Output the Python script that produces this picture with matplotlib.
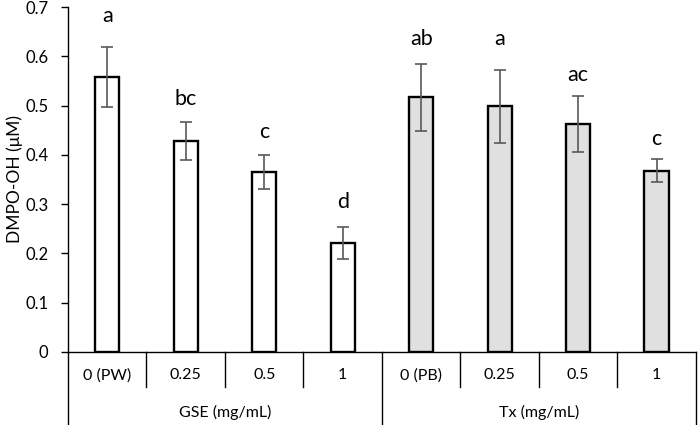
import numpy as np
import matplotlib
matplotlib.use("Agg")
from matplotlib import pyplot as plt
from matplotlib import transforms

plt.rcParams["font.family"] = ["Lato", "DejaVu Sans"]

# data
doses = ["0 (PW)", "0.25", "0.5", "1", "0 (PB)", "0.25", "0.5", "1"]
groups = ["GSE (mg/mL)", "Tx (mg/mL)"]
means = [0.558, 0.428, 0.365, 0.221, 0.517, 0.499, 0.463, 0.368]
errors = [0.061, 0.038, 0.035, 0.032, 0.068, 0.074, 0.057, 0.023]
letters = ["a", "bc", "c", "d", "ab", "a", "ac", "c"]
letter_gap = [0.042, 0.028, 0.027, 0.032, 0.029, 0.041, 0.021, 0.021]

fig = plt.figure(figsize=(6.98, 4.25), dpi=100)
ax = fig.add_axes([0.0974, 0.1718, 0.8996, 0.8117])

x = np.arange(len(means))
colors = ["white"] * 4 + ["#e0e0e0"] * 4
ax.bar(x, means, width=0.31, color=colors, edgecolor="black", linewidth=1.7, zorder=2)
ax.errorbar(x, means, yerr=errors, fmt="none", ecolor="#595959",
            elinewidth=1.2, capsize=4, capthick=1.2, zorder=3)

for xi, m, e, lab, g in zip(x, means, errors, letters, letter_gap):
    ax.text(xi, m + e + g, lab, ha="center", va="bottom", fontsize=15.5)

ax.set_xlim(-0.5, len(means) - 0.5)
ax.set_ylim(0, 0.7)
ax.set_yticks(np.arange(0, 0.71, 0.1))
ax.set_yticklabels(["0"] + [f"{v:.1f}" for v in np.arange(0.1, 0.71, 0.1)])
ax.tick_params(axis="y", direction="out", length=5, width=1, labelsize=12, pad=9)
ax.set_xticks([])
ax.spines["top"].set_visible(False)
ax.spines["right"].set_visible(False)
ax.spines["left"].set_linewidth(1.0)
ax.spines["bottom"].set_linewidth(1.0)
ax.set_ylabel("DMPO-OH (μM)", fontsize=12.5, labelpad=2)

# two-level category axis
trans = transforms.blended_transform_factory(ax.transData, ax.transAxes)
for i in range(1, len(means)):
    if i == 4:
        continue
    ax.plot([i - 0.5, i - 0.5], [0, -0.101], color="black", lw=1.0,
            transform=trans, clip_on=False)
for b in [-0.5, 3.5, 7.5]:
    ax.plot([b, b], [0, -0.215], color="black", lw=1.0,
            transform=trans, clip_on=False)
for xi, lab in zip(x, doses):
    ax.text(xi, -0.068, lab, ha="center", va="center", fontsize=11.5,
            transform=trans)
for gi, lab in enumerate(groups):
    ax.text(gi * 4 + 1.5, -0.174, lab, ha="center", va="center", fontsize=11.5,
            transform=trans)

fig.savefig("out.png", dpi=100)
